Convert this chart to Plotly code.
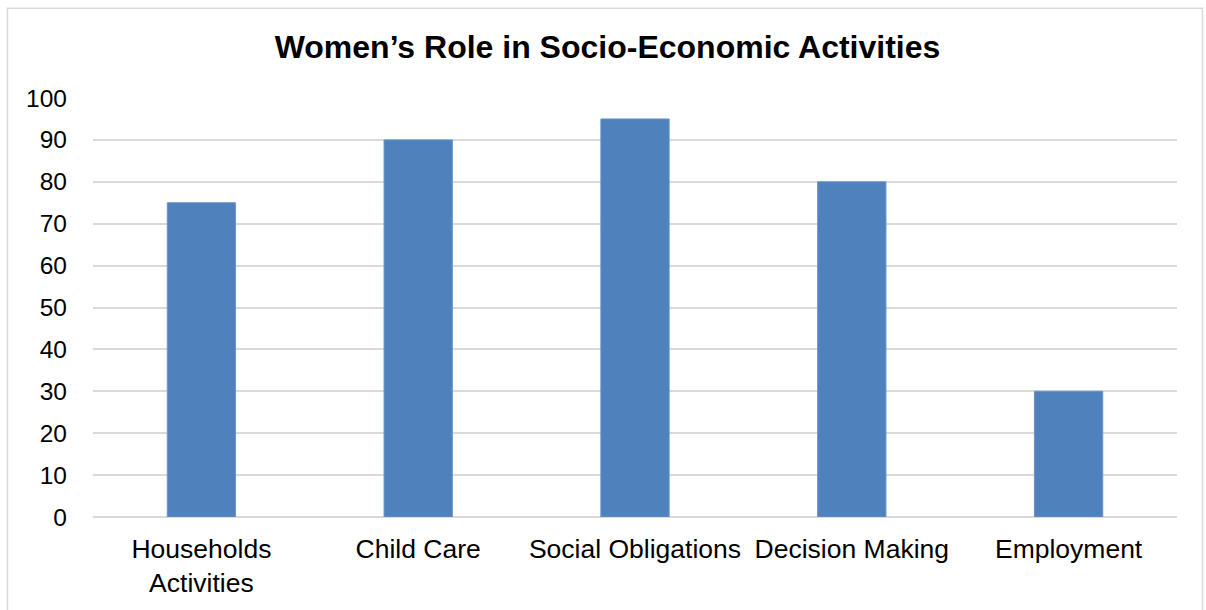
import plotly.graph_objects as go

categories = ["Households<br>Activities", "Child Care", "Social Obligations", "Decision Making", "Employment"]
values = [75, 90, 95, 80, 30]
y_ticks = [0, 10, 20, 30, 40, 50, 60, 70, 80, 90, 100]

W, H = 1206, 610
ML, MR, MT, MB = 93, 29, 98, 89
plot_w = W - ML - MR
plot_h = H - MT - MB


def px_to_paper_x(px):
    return (px - ML) / plot_w


def px_to_paper_y(py):
    return (H - MB - py) / plot_h


fig = go.Figure(
    go.Bar(
        x=categories,
        y=values,
        marker=dict(color="#4F81BD", line=dict(color="#6A94C8", width=1)),
        width=0.315,
    )
)

fig.update_layout(
    width=W,
    height=H,
    margin=dict(l=ML, r=MR, t=MT, b=MB),
    paper_bgcolor="white",
    plot_bgcolor="white",
    font=dict(family="Liberation Sans, Arial, sans-serif", color="#000000", size=24),
    title=dict(
        text="<b>Women’s Role in Socio-Economic Activities</b>",
        x=607.5 / W,
        xanchor="center",
        y=1 - 47 / H,
        yanchor="middle",
        font=dict(size=32, color="#000000"),
    ),
    showlegend=False,
    bargap=0.685,
    xaxis=dict(
        showgrid=False,
        showline=False,
        ticks="",
        ticklabelstandoff=13,
        tickfont=dict(size=26.5),
    ),
    yaxis=dict(
        range=[0, 100],
        tickvals=y_ticks,
        showgrid=True,
        gridcolor="#D9D9D9",
        gridwidth=1.5,
        zeroline=True,
        zerolinecolor="#D9D9D9",
        zerolinewidth=1.5,
        showline=False,
        ticks="",
        ticklabelstandoff=25,
        tickfont=dict(size=24.5),
    ),
    shapes=[
        dict(
            type="rect",
            xref="paper",
            yref="paper",
            x0=px_to_paper_x(7.5),
            x1=px_to_paper_x(1202.5),
            y0=px_to_paper_y(640),
            y1=px_to_paper_y(7.5),
            line=dict(color="#D9D9D9", width=1.5),
            fillcolor="rgba(0,0,0,0)",
            layer="below",
        )
    ],
)

fig.write_html("out.html")
